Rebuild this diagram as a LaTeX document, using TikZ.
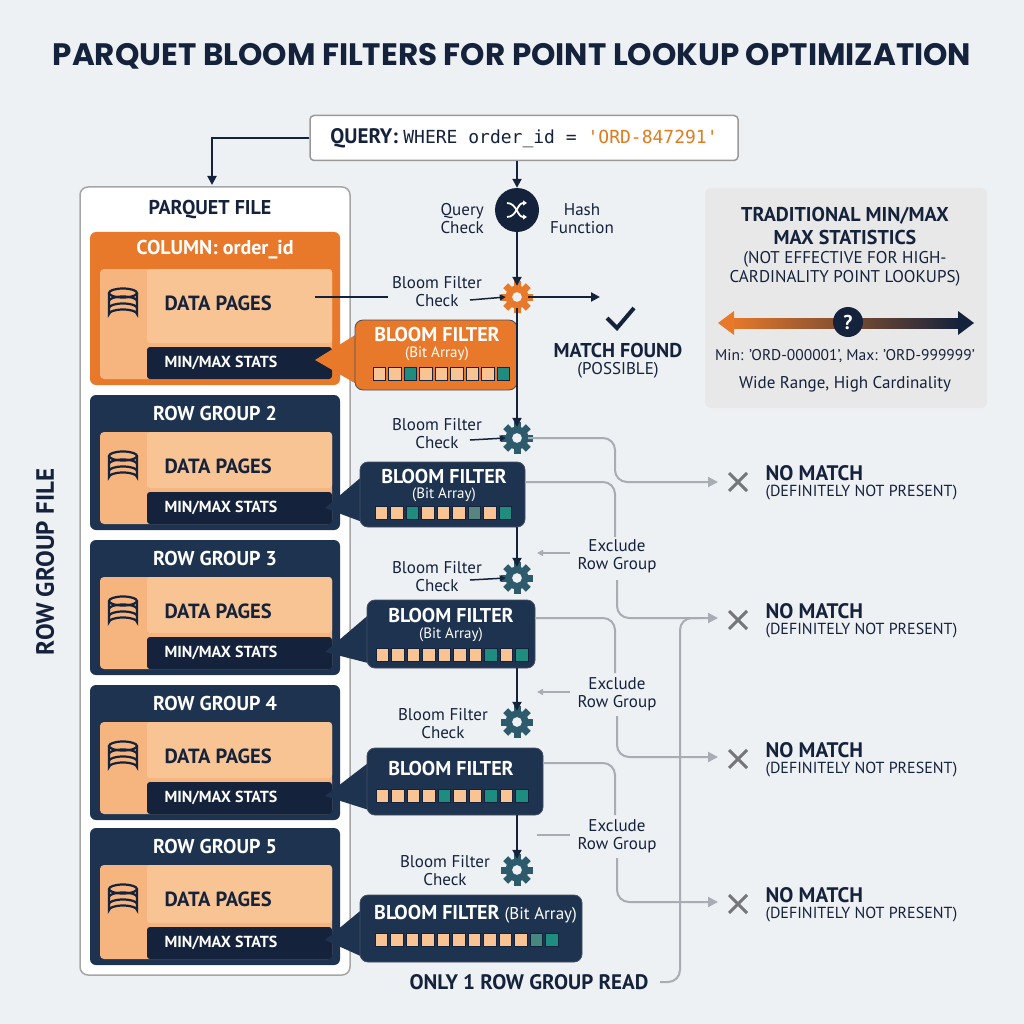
\documentclass[tikz,border=0pt]{standalone}
\usepackage{fontspec}
\setmainfont{PT Sans}
\setmonofont{DejaVu Sans Mono}
\newfontfamily\titlefont{Poppins}
\usetikzlibrary{arrows.meta,calc}
\definecolor{bg}{HTML}{EEF1F4}
\definecolor{navy}{HTML}{15223B}
\definecolor{rgb}{HTML}{1D3350}
\definecolor{org}{HTML}{E8792A}
\definecolor{lorg}{HTML}{F9C493}
\definecolor{teal}{HTML}{1F8C80}
\definecolor{gearc}{HTML}{2D5B6C}
\definecolor{gry}{HTML}{A7ADB3}
\definecolor{qorg}{HTML}{E07B1F}
\tikzset{
 lbl/.style={font=\fontsize{17}{18}\selectfont,text=navy,align=center,inner sep=0pt},
 hdr/.style={font=\bfseries\fontsize{20}{21}\selectfont,text=white,inner sep=0pt},
 sub/.style={font=\fontsize{15}{16}\selectfont,text=white,inner sep=0pt},
 nav/.style={-{Triangle[length=9pt,width=9pt]},line width=2pt,draw=navy},
 sarr/.style={-{Triangle[length=6pt,width=6pt]},line width=1.5pt,draw=navy},
 garr/.style={-{Triangle[length=10pt,width=10pt]},line width=2pt,draw=gry,rounded corners=12pt},
 gline/.style={line width=2pt,draw=gry,rounded corners=12pt},
}
\newcommand{\gearat}[4]{% name, x, y, color
 \node[circle,minimum size=22pt,inner sep=0pt] (#1) at (#2,#3) {};
 \foreach \a in {0,45,...,315}{\fill[#4,rotate around={\a:(#2,#3)}] (#2-3.5,#3-16) rectangle (#2+3.5,#3-9);}
 \fill[#4,even odd rule] (#2,#3) circle (11.5) (#2,#3) circle (5);}
\newcommand{\dbicon}[2]{%
 \begin{scope}[line width=2.2pt,draw=navy]
 \draw (#1-14,#2-10) -- (#1-14,#2+11) arc[start angle=180,end angle=360,x radius=14,y radius=4.5] -- (#1+14,#2-10);
 \draw (#1,#2-10) ellipse[x radius=14,y radius=4.5];
 \draw (#1-14,#2-2) arc[start angle=180,end angle=360,x radius=14,y radius=4.5];
 \draw (#1-14,#2+5) arc[start angle=180,end angle=360,x radius=14,y radius=4.5];
 \end{scope}}
\newcommand{\rowgroup}[4]{% top y, bottom y, title, fill
 \fill[#4,rounded corners=6pt] (90,#1) rectangle (340,#2);
 \node[hdr] at (215,#1+18) {#3};
 \fill[lorg!80!org,rounded corners=4pt] (100,#1+37) rectangle (332,#2-6);
 \fill[lorg,rounded corners=3pt] (147,#1+37) rectangle (332,#2-42);
 \fill[navy,rounded corners=3pt] (147,#2-38) rectangle (332,#2-6);
 \dbicon{123}{#1+71}
 \node[font=\bfseries\fontsize{20.5}{21}\selectfont,text=navy,anchor=west] at (161,#1+71) {DATA PAGES};
 \node[font=\bfseries\fontsize{16}{17}\selectfont,text=white,anchor=west] at (161,#2-22) {MIN/MAX STATS};}
\newcommand{\bfbox}[7]{% x1 y1 x2 y2 tipx tipy fill
 \fill[#7] (#1+5,#2+12) -- (#5,#6) -- (#1+5,#4-4) -- cycle;
 \fill[#7,draw=navy!80,line width=0.8pt,rounded corners=8pt] (#1,#2) rectangle (#3,#4);}
\newcommand{\bits}[3]{% x y list
 \foreach \c [count=\i from 0] in {#3}{\fill[\c,draw=navy,line width=0.6pt] (#1+\i*15.5,#2-6.5) rectangle (#1+\i*15.5+12.5,#2+6.5);}}
\newcommand{\nomatch}[2]{%
 \draw[line width=3pt,draw=gray!90!navy] (#1-9,#2-9) -- (#1+9,#2+9) (#1-9,#2+9) -- (#1+9,#2-9);
 \node[font=\bfseries\fontsize{21}{22}\selectfont,text=navy,anchor=west] at (#1+24,#2-9) {NO MATCH};
 \node[font=\fontsize{16}{17}\selectfont,text=navy,anchor=west] at (#1+24,#2+11) {(DEFINITELY NOT PRESENT)};}
\begin{document}
\begin{tikzpicture}[x=1pt,y=-1pt]
\fill[bg] (0,0) rectangle (1024,1024);
\useasboundingbox (0,0) rectangle (1024,1024);
\node[font=\titlefont\bfseries\fontsize{31}{32}\selectfont,text=navy] (title) at (512,56) {PARQUET BLOOM FILTERS FOR POINT LOOKUP OPTIMIZATION};
% query
\node[draw=gray!80,line width=1.5pt,fill=white,rounded corners=4pt,minimum width=428pt,minimum height=45pt,inner sep=0pt] (q) at (524,138)
 {\fontsize{21}{22}\selectfont\bfseries\color{navy}QUERY: \mdseries\ttfamily\fontsize{18}{19}\selectfont WHERE order\_id = \color{qorg}'ORD-847291'};
% parquet file
\node[draw=gray!70,line width=1.5pt,fill=white,rounded corners=8pt,minimum width=270pt,minimum height=788pt] (pf) at (215,581) {};
\draw[nav] (q.west) -| (212,185);
\node[font=\bfseries\fontsize{20}{21}\selectfont,text=navy] at (210,210) {PARQUET FILE};
\node[rotate=90,font=\bfseries\fontsize{25}{26}\selectfont,text=navy] at (45,562) {ROW GROUP FILE};
\rowgroup{232}{385}{COLUMN: order\_id}{org}
\rowgroup{395}{530}{ROW GROUP 2}{rgb}
\rowgroup{540}{675}{ROW GROUP 3}{rgb}
\rowgroup{685}{820}{ROW GROUP 4}{rgb}
\rowgroup{828}{965}{ROW GROUP 5}{rgb}
% hash
\node[circle,fill=navy,minimum size=44pt,inner sep=0pt] (h) at (517,210) {};
\begin{scope}[line width=1.8pt,draw=white,-{Triangle[length=4pt,width=5pt]}]
\draw[white] (507,203) .. controls (517,203) and (517,217) .. (527,217);
\draw[white] (507,217) .. controls (517,217) and (517,203) .. (527,203);
\end{scope}
\node[lbl,anchor=east] at (484,219) {Query\\Check};
\node[lbl,anchor=west] at (550,219) {Hash\\Function};
\gearat{g1}{517}{297}{org}
\gearat{g2}{517}{438}{gearc}
\gearat{g3}{517}{578}{gearc}
\gearat{g4}{517}{722}{gearc}
\gearat{g5}{517}{870}{gearc}
\draw[nav] (q.south -| h) -- (h);
\draw[nav] (h) -- (g1);
% bloom filters
\bfbox{355}{320}{517}{390}{315}{360}{org}
\node[hdr] at (437,334) {BLOOM FILTER};
\node[sub] at (437,354) {(Bit Array)};
\bits{373}{374}{lorg,lorg,teal,lorg,lorg,lorg,lorg,lorg,teal}
\bfbox{360}{462}{525}{527}{325}{508}{rgb}
\node[hdr] at (444,476) {BLOOM FILTER};
\node[sub] at (444,495) {(Bit Array)};
\bits{375}{513}{lorg,lorg,teal,lorg,lorg,lorg,teal!40!gray,lorg,teal}
\bfbox{367}{600}{535}{668}{325}{652}{rgb}
\node[hdr] at (451,615) {BLOOM FILTER};
\node[sub] at (451,635) {(Bit Array)};
\bits{376}{655}{lorg,lorg,lorg,lorg,lorg,lorg,lorg,teal,lorg,teal}
\bfbox{367}{748}{543}{815}{325}{796}{rgb}
\node[hdr] at (451,768) {BLOOM FILTER};
\bits{376}{796}{lorg,lorg,lorg,lorg,teal,lorg,lorg,teal,lorg,teal}
\bfbox{360}{895}{582}{962}{325}{940}{rgb}
\node[hdr,anchor=west] at (374,914) {BLOOM FILTER \mdseries\fontsize{17}{18}\selectfont(Bit Array)};
\bits{375}{940}{lorg,lorg,lorg,lorg,lorg,lorg,lorg,lorg,lorg,lorg,teal!60!gray,teal}
% vertical flow
\draw[nav] (g1) -- (g2);
\draw[nav] (517,527) -- (g3);
\draw[nav] (517,668) -- (g4);
\draw[nav] (517,815) -- (g5);
% labels
\node[lbl,anchor=east] (l1) at (482,292) {Bloom Filter\\Check};
\draw[line width=1.2pt,draw=navy] (315,297) -- (388,297);
\draw[sarr] (470,300) -- (g1.west);
\node[lbl,anchor=east] at (482,434) {Bloom Filter\\Check};
\draw[sarr] (470,440) -- (g2.west);
\node[lbl,anchor=east] at (482,577) {Bloom Filter\\Check};
\draw[sarr] (470,580) -- (g3.west);
\node[lbl,anchor=east] at (488,724) {Bloom Filter\\Check};
\node[lbl,anchor=east] at (490,871) {Bloom Filter\\Check};
% match found
\draw[nav] (g1.east) -- (600,297);
\draw[line width=4pt,draw=navy] (607,318) -- (617,328) -- (634,308);
\node[font=\bfseries\fontsize{20}{21}\selectfont,text=navy] at (618,350) {MATCH FOUND};
\node[font=\fontsize{17}{18}\selectfont,text=navy] at (618,370) {(POSSIBLE)};
% exclude labels
\node[lbl] (e1) at (617,556) {Exclude\\Row Group};
\node[lbl] (e2) at (617,694) {Exclude\\Row Group};
\node[lbl] (e3) at (617,836) {Exclude\\Row Group};
\draw[-{Triangle[length=6pt,width=6pt]},line width=1.5pt,draw=gry] (570,553) -- (537,553);
\draw[-{Triangle[length=6pt,width=6pt]},line width=1.5pt,draw=gry] (570,692) -- (537,692);
\draw[line width=1.5pt,draw=gry] (570,835) -- (537,835);
% gray routes
\draw[garr] (g2.east) -- (615,438) |- (718,482);
\draw[gline] (525,482) -- (615,482) -- (615,537);
\draw[garr] (617,580) -- (617,618) -- (718,618);
\draw[gline] (535,618) -- (615,618) -- (615,673);
\draw[garr] (617,716) -- (617,757) -- (718,757);
\draw[gline] (543,763) -- (615,763) -- (615,815);
\draw[garr] (617,858) -- (617,902) -- (718,902);
\draw[gline] (660,982) -- (680,982) -- (680,618) -- (700,618);
\node[font=\bfseries\fontsize{21}{22}\selectfont,text=navy] at (529,982) {ONLY 1 ROW GROUP READ};
\nomatch{738}{482}
\nomatch{738}{620}
\nomatch{738}{759}
\nomatch{738}{904}
% traditional box
\fill[gray!18,rounded corners=6pt] (705,188) rectangle (987,408);
\node[font=\bfseries\fontsize{20}{23}\selectfont,text=navy,align=center] at (845,226) {TRADITIONAL MIN/MAX\\MAX STATISTICS};
\node[font=\fontsize{17}{19}\selectfont,text=navy,align=center] at (845,269) {(NOT EFFECTIVE FOR HIGH-\\CARDINALITY POINT LOOKUPS)};
\shade[left color=org,right color=navy] (730,318) rectangle (960,328);
\fill[org] (718,323) -- (734,311) -- (734,335) -- cycle;
\fill[navy] (974,323) -- (958,311) -- (958,335) -- cycle;
\node[circle,fill=navy,minimum size=30pt,inner sep=0pt,text=white,font=\bfseries\fontsize{20}{20}\selectfont] (qm) at (848,322) {?};
\node[font=\fontsize{15.5}{16}\selectfont,text=navy] at (845,356) {Min: 'ORD-000001', Max: 'ORD-999999'};
\node[font=\fontsize{17}{18}\selectfont,text=navy] at (845,384) {Wide Range, High Cardinality};
\end{tikzpicture}
\end{document}
